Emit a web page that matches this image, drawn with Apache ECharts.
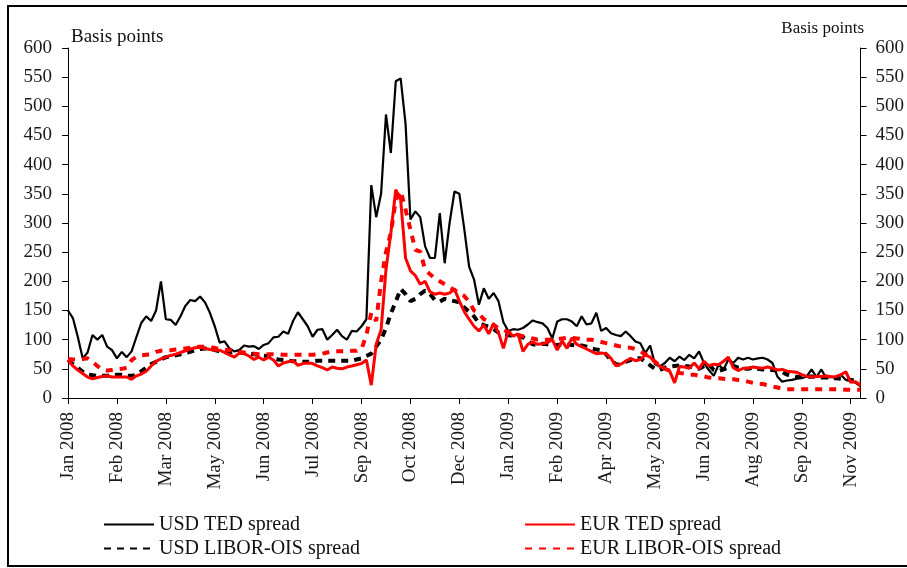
<!DOCTYPE html>
<html>
<head>
<meta charset="utf-8">
<title>TED and LIBOR-OIS spreads</title>
<script src="https://cdn.jsdelivr.net/npm/echarts@6/dist/echarts.min.js"></script>
<style>
  html, body { margin: 0; padding: 0; background: #fff; }
  #chart { width: 907px; height: 568px; }
</style>
</head>
<body>
<div id="chart"></div>
<script>
// one point every 3 business days, Jan 2008 - Nov 2009 (basis points)
const tickLabels = ["Jan 2008", "Feb 2008", "Mar 2008", "May 2008", "Jun 2008", "Jul 2008",
  "Sep 2008", "Oct 2008", "Dec 2008", "Jan 2009", "Feb 2009", "Apr 2009", "May 2009",
  "Jun 2009", "Aug 2009", "Sep 2009", "Nov 2009"];

const usdTed = [
  150, 137, 105, 68, 78, 108, 100, 108, 88, 82,
  68, 79, 70, 80, 105, 129, 140, 132, 150, 200,
  135, 134, 125, 140, 158, 168, 166, 174, 164, 146,
  123, 95, 97, 85, 80, 82, 90, 88, 89, 84,
  91, 94, 104, 105, 114, 110, 132, 147, 135, 123,
  105, 117, 118, 100, 108, 117, 106, 100, 115, 114,
  123, 135, 365, 310, 350, 486, 420, 543, 548, 470,
  306, 320, 310, 260, 240, 240, 317, 231, 300, 354,
  350, 290, 225, 203, 160, 188, 170, 180, 166, 130,
  115, 118, 117, 120, 126, 133, 130, 128, 120, 102,
  131, 135, 135, 131, 123, 140, 126, 128, 146, 115,
  120, 111, 108, 106, 114, 106, 97, 94, 77, 90,
  58, 54, 60, 69, 63, 71, 65, 74, 68, 80,
  60, 48, 38, 57, 49, 66, 60, 69, 66, 69,
  66, 68, 69, 66, 60, 37, 28, 30, 31, 33,
  34, 37, 49, 36, 49, 34, 37, 34, 40, 31,
  30, 26, 20
];

const usdLiborOis = [
  65, 58, 52, 45, 40, 39, 38, 38, 38, 39,
  40, 40, 38, 38, 40, 46, 52, 58, 62, 66,
  70, 71, 73, 75, 77, 79, 82, 84, 85, 84,
  82, 80, 78, 78, 79, 78, 77, 76, 75, 74,
  73, 71, 68, 66, 65, 64, 63, 63, 62, 62,
  63, 64, 64, 64, 64, 64, 64, 64, 64, 66,
  68, 72, 76, 88, 100, 120, 145, 165, 187, 178,
  166, 170, 178, 184, 178, 168, 165, 170, 168, 166,
  164, 155, 148, 140, 128, 125, 122, 118, 112, 110,
  108, 106, 106, 104, 98, 92, 91, 93, 92, 91,
  91, 92, 92, 91, 90, 90, 88, 85, 83, 82,
  75, 65, 58, 57, 62, 65, 68, 68, 62, 56,
  50, 48, 52, 54, 55, 56, 55, 54, 52, 50,
  55, 58, 48, 46, 49, 52, 55, 52, 50, 50,
  52, 50, 49, 48, 48, 47, 45, 40, 38, 36,
  36, 36, 37, 36, 35, 35, 34, 34, 33, 32,
  31, 30, 30
];

const eurTed = [
  65, 55, 48, 42, 36, 33, 35, 37, 38, 36,
  36, 36, 36, 32, 38, 41, 46, 55, 63, 67,
  70, 73, 75, 78, 81, 84, 86, 87, 85, 83,
  82, 82, 78, 74, 70, 77, 76, 72, 66, 70,
  65, 70, 65, 55, 60, 62, 64, 56, 59, 60,
  59, 55, 52, 48, 53, 51, 50, 53, 55, 57,
  59, 65, 22, 92, 117, 220, 283, 357, 340, 240,
  218, 210, 195, 200, 182, 178, 180, 178, 180, 187,
  166, 148, 135, 123, 115, 125, 110, 128, 112, 85,
  115, 106, 110, 80, 92, 96, 92, 93, 95, 100,
  82, 98, 85, 103, 92, 88, 84, 80, 76, 77,
  76, 68, 55, 58, 63, 68, 64, 66, 74, 70,
  62, 54, 51, 46, 26, 54, 53, 51, 60, 50,
  63, 55, 58, 57, 63, 70, 52, 47, 51, 51,
  53, 52, 51, 53, 51, 48, 49, 46, 45, 44,
  40, 37, 36, 37, 37, 38, 36, 37, 40, 45,
  27, 28, 22
];

const eurLiborOis = [
  67, 66, 66, 67, 68, 62, 55, 48, 47, 48,
  49, 50, 52, 65, 71, 73, 74, 75, 79, 81,
  82, 82, 83, 84, 85, 86, 87, 88, 88, 87,
  86, 84, 83, 82, 80, 79, 78, 77, 76, 75,
  75, 75, 75, 75, 74, 74, 74, 74, 74, 74,
  74, 75, 76, 78, 80, 80, 80, 80, 81, 81,
  84, 108, 146, 132, 200, 250, 283, 340, 355, 323,
  289, 254, 251, 220, 212, 205, 200, 195, 190, 185,
  180, 175, 165, 150, 145, 135, 131, 125, 120, 117,
  113, 110, 108, 106, 104, 102, 100, 100, 100, 100,
  101, 102, 103, 103, 102, 101, 100, 100, 98, 96,
  94, 92, 90, 88, 87, 86, 84, 80, 75, 70,
  62, 56, 50, 47, 45, 43, 42, 40, 40, 38,
  37, 35, 34, 34, 33, 32, 32, 31, 30, 28,
  26, 24, 24, 22, 20, 18, 16, 15, 15, 15,
  15, 15, 15, 15, 15, 15, 15, 15, 15, 14,
  14, 14, 14
];

const categories = usdTed.map((v, i) => i);

const font = "'Liberation Serif', 'DejaVu Serif', serif";

var myChart = echarts.init(document.getElementById("chart"), null, { renderer: "canvas" });

var yAxisBase = {
  type: "value",
  min: 0,
  max: 600,
  interval: 50,
  axisLine: { show: true, lineStyle: { color: "#000", width: 1 } },
  axisTick: { show: true, inside: false, length: 6, lineStyle: { color: "#000" } },
  splitLine: { show: false },
};

var legendBase = {
  orient: "vertical",
  top: 514,
  padding: 0,
  itemWidth: 50,
  itemHeight: 14,
  itemGap: 3,
  itemStyle: { opacity: 0 },
  textStyle: { color: "#111", fontFamily: font, fontSize: 20, lineHeight: 21 },
};

var option = {
  animation: false,
  backgroundColor: "#fff",
  grid: { left: 68, right: 43, top: 48, bottom: 170 },
  xAxis: {
    type: "category",
    data: categories,
    boundaryGap: false,
    axisLine: { show: true, lineStyle: { color: "#000", width: 1 } },
    axisTick: { show: true, interval: 9, length: 6, lineStyle: { color: "#000" } },
    axisLabel: {
      interval: function (index) {
        return index % 10 === 0;
      },
      rotate: 90,
      margin: 14,
      color: "#1a1a1a",
      fontFamily: font,
      fontSize: 19,
      formatter: function (value, index) {
        return index % 10 === 0 ? tickLabels[index / 10] : "";
      },
    },
    splitLine: { show: false },
  },
  yAxis: [
    Object.assign({}, yAxisBase, {
      position: "left",
      axisLabel: { margin: 16, color: "#1a1a1a", fontFamily: font, fontSize: 19 },
    }),
    Object.assign({}, yAxisBase, {
      position: "right",
      axisLabel: { margin: 15, color: "#1a1a1a", fontFamily: font, fontSize: 19 },
    }),
  ],
  legend: [
    Object.assign({}, legendBase, {
      data: ["USD TED spread", "USD LIBOR-OIS spread"],
      left: 103,
    }),
    Object.assign({}, legendBase, {
      data: ["EUR TED spread", "EUR LIBOR-OIS spread"],
      left: 524,
    }),
  ],
  graphic: [
    {
      type: "rect",
      shape: { x: 8, y: 6, width: 902, height: 560 },
      style: { fill: null, stroke: "#000", lineWidth: 2 },
      silent: true,
    },
    {
      type: "text",
      left: 71,
      top: 28,
      style: { text: "Basis points", fill: "#111", font: "19px " + font },
    },
    {
      type: "text",
      right: 43,
      top: 20,
      style: { text: "Basis points", fill: "#111", font: "17px " + font },
    },
  ],
  series: [
    {
      name: "USD TED spread",
      type: "line",
      data: usdTed,
      symbol: "none",
      showSymbol: false,
      itemStyle: { color: "#000" },
      lineStyle: { color: "#000", width: 2.2 },
    },
    {
      name: "USD LIBOR-OIS spread",
      type: "line",
      data: usdLiborOis,
      symbol: "none",
      showSymbol: false,
      itemStyle: { color: "#000" },
      lineStyle: { color: "#000", width: 4, type: [7, 6] },
    },
    {
      name: "EUR TED spread",
      type: "line",
      data: eurTed,
      symbol: "none",
      showSymbol: false,
      itemStyle: { color: "#ff0000" },
      lineStyle: { color: "#ff0000", width: 3 },
    },
    {
      name: "EUR LIBOR-OIS spread",
      type: "line",
      data: eurLiborOis,
      symbol: "none",
      showSymbol: false,
      itemStyle: { color: "#ff0000" },
      lineStyle: { color: "#ff0000", width: 4, type: [7, 7] },
    },
  ],
};

if (option && typeof option === "object") {
  myChart.setOption(option);
}
window.addEventListener("resize", myChart.resize);
</script>
</body>
</html>
